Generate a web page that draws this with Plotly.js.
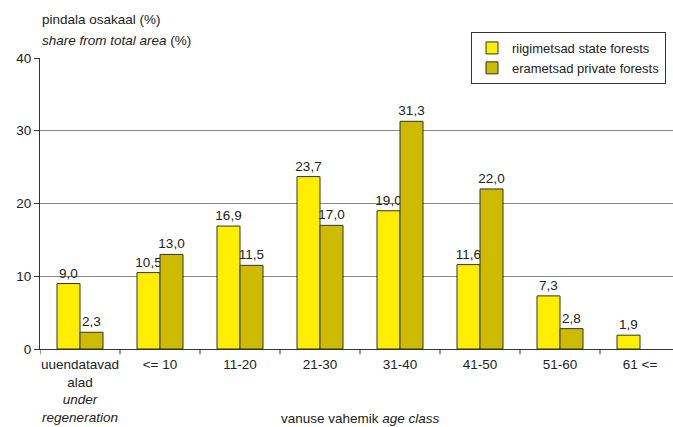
<!DOCTYPE html>
<html><head><meta charset="utf-8">
<script src="https://cdn.plot.ly/plotly-3.0.1.min.js"></script>
<style>body{margin:0;background:#fff}#c{width:673px;height:427px}</style>
</head><body><div id="c"></div>
<script>
var categories = ["uuendatavad<br>alad<br><i>under</i><br><i>regeneration</i>", "<= 10", "11-20", "21-30", "31-40", "41-50", "51-60", "61 <="];
var stateForests = [9.0, 10.5, 16.9, 23.7, 19.0, 11.6, 7.3, 1.9];
var privateForests = [2.3, 13.0, 11.5, 17.0, 31.3, 22.0, 2.8, null];
var yTicks = [0, 10, 20, 30, 40];
var seriesNames = ["riigimetsad state forests", "erametsad private forests"];

function fmt(v){ return v === null ? "" : v.toFixed(1).replace(".", ","); }
var idx = categories.map(function(_, i){ return i; });
var font = {family: "Liberation Sans, Arial, sans-serif", size: 13.5, color: "#222"};
var lfont = {family: "Liberation Sans, Arial, sans-serif", size: 13, color: "#222"};

var traces = [
  {type: "bar", x: idx, y: stateForests, name: seriesNames[0],
   marker: {color: "#FFEE00", line: {color: "#333", width: 1}},
   text: stateForests.map(fmt), textposition: "outside", cliponaxis: false,
   constraintext: "none", textfont: font},
  {type: "bar", x: idx, y: privateForests, name: seriesNames[1],
   marker: {color: "#CCBB00", line: {color: "#333", width: 1}},
   text: privateForests.map(fmt), textposition: "outside", cliponaxis: false,
   constraintext: "none", textfont: font}
];

var layout = {
  width: 673, height: 427,
  margin: {l: 40, r: 0, t: 58, b: 78},
  paper_bgcolor: "#fff", plot_bgcolor: "#fff",
  font: font,
  barmode: "group", bargap: 0.425, bargroupgap: 0,
  showlegend: true,
  legend: {x: (666 - 40) / 633, y: (349 - 32) / 291, xanchor: "right", yanchor: "top",
           bgcolor: "#fff", bordercolor: "#333", borderwidth: 1,
           font: lfont, itemwidth: 30},
  xaxis: {range: [-0.5, -0.5 + 633/80], tickvals: idx, ticktext: categories,
          showgrid: false, showline: true, linecolor: "#333", linewidth: 1,
          ticks: "", zeroline: false, fixedrange: true, automargin: false,
          ticklabelstandoff: 3},
  yaxis: {range: [0, 40], tickvals: yTicks, ticktext: yTicks.map(String),
          showgrid: true, gridcolor: "#888", gridwidth: 1,
          showline: true, linecolor: "#333", linewidth: 1,
          ticks: "outside", ticklen: 5, tickcolor: "#333",
          zeroline: false, automargin: false},
  shapes: [],
  annotations: [
    {xref: "paper", yref: "paper", x: 0, y: (349 - 19) / 291, xanchor: "left", yanchor: "middle",
     text: "pindala osakaal (%)", showarrow: false, font: font},
    {xref: "paper", yref: "paper", x: 0, y: (349 - 40) / 291, xanchor: "left", yanchor: "middle",
     text: "<i>share from total area</i> (%)", showarrow: false, font: font},
    {xref: "paper", yref: "paper", x: (360 - 40) / 633, y: (349 - 418) / 291, xanchor: "center", yanchor: "middle",
     text: "vanuse vahemik <i>age class</i>", showarrow: false, font: font}
  ]
};
// tick marks between categories on x axis
for (var i = 0; i <= categories.length; i++) {
  layout.shapes.push({type: "line", xref: "x", yref: "paper", x0: i - 0.5, x1: i - 0.5,
    y0: 0, y1: -0.018, line: {color: "#333", width: 1}});
}
Plotly.newPlot("c", traces, layout, {displayModeBar: false, staticPlot: true});
</script></body></html>
